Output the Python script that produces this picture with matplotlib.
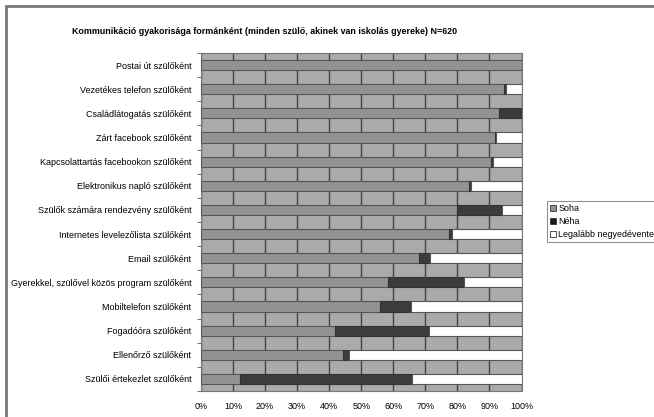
import numpy as np
import matplotlib
matplotlib.use("Agg")
from matplotlib import pyplot as plt
from matplotlib.patches import Rectangle

plt.rcParams['font.family'] = ['Liberation Sans', 'DejaVu Sans']

categories = ["Postai út szülőként", "Vezetékes telefon szülőként", "Családlátogatás szülőként",
              "Zárt facebook szülőként", "Kapcsolattartás facebookon szülőként",
              "Elektronikus napló szülőként", "Szülők számára rendezvény szülőként",
              "Internetes levelezőlista szülőként", "Email szülőként",
              "Gyerekkel, szülővel közös program szülőként", "Mobiltelefon szülőként",
              "Fogadóóra szülőként", "Ellenőrző szülőként", "Szülői értekezlet szülőként"]
soha = [100, 94.5, 93, 91.8, 90.4, 83.5, 80, 77.4, 68, 58.2, 55.7, 41.8, 44.4, 12.2]
neha = [0, 0.7, 7, 0.2, 0.6, 0.8, 14, 0.8, 3.4, 23.9, 9.7, 29.2, 1.8, 53.7]
legalabb = [0, 4.8, 0, 8, 9, 15.7, 6, 21.8, 28.6, 17.9, 34.6, 29, 53.8, 34.1]
series_names = ["Soha", "Néha", "Legalább negyedévente"]
x_ticks = [0, 10, 20, 30, 40, 50, 60, 70, 80, 90, 100]

fig = plt.figure(figsize=(6.54, 4.17), dpi=100)
fig.patches.append(Rectangle((6 / 654, -0.1), 1.2, 1 - 6 / 417 + 0.1, transform=fig.transFigure,
                             fill=False, edgecolor="#777777", linewidth=2))

ax = fig.add_axes([201 / 654, 1 - 391 / 417, 320.5 / 654, 338 / 417])
ax.set_facecolor("#aaaaaa")

y = np.arange(len(categories))
h = 0.42
soha_a = np.array(soha)
neha_a = np.array(neha)
leg_a = np.array(legalabb)
ax.barh(y, soha_a, height=h, color="#939393", edgecolor="#555555", linewidth=0.8, zorder=3)
ax.barh(y, neha_a, left=soha_a, height=h, color="#3c3c3c", edgecolor="#333333", linewidth=0.8, zorder=3)
ax.barh(y, leg_a, left=soha_a + neha_a, height=h, color="white", edgecolor="#555555", linewidth=0.8, zorder=3)

ax.set_xlim(0, 100)
ax.set_ylim(len(categories) - 0.5, -0.5)
ax.set_xticks(x_ticks)
ax.set_xticklabels([f"{t}%" for t in x_ticks], fontsize=6.5)
ax.set_yticks(y)
ax.set_yticklabels(categories, fontsize=6.5)
ax.set_yticks(np.arange(-0.5, len(categories)), minor=True)
ax.tick_params(axis="y", which="major", length=0, pad=7)
ax.tick_params(axis="y", which="minor", length=3, color="#555555")
ax.tick_params(axis="x", length=0, pad=8)
ax.grid(axis="x", color="#444444", linewidth=1, zorder=1)
ax.set_axisbelow(True)
for s in ax.spines.values():
    s.set_color("#777777")
    s.set_linewidth(0.8)

fig.text(265 / 654, 1 - 31 / 417, "Kommunikáció gyakorisága formánként (minden szülő, akinek van iskolás gyereke) N=620",
         ha="center", va="center", fontsize=6.4, fontweight="bold")

handles = [Rectangle((0, 0), 1, 1, facecolor=c, edgecolor="#333333", linewidth=0.6)
           for c in ["#939393", "#1a1a1a", "white"]]
leg = fig.legend(handles, series_names, loc="upper left", bbox_to_anchor=(547 / 654, 1 - 201 / 417),
                 fontsize=6.4, frameon=True, fancybox=False, handlelength=0.7, handleheight=0.7,
                 handletextpad=0.2, borderpad=0.35, labelspacing=0.45, borderaxespad=0)
leg.get_frame().set_edgecolor("#777777")
leg.get_frame().set_linewidth(0.8)

fig.savefig("out.png", dpi=100)
